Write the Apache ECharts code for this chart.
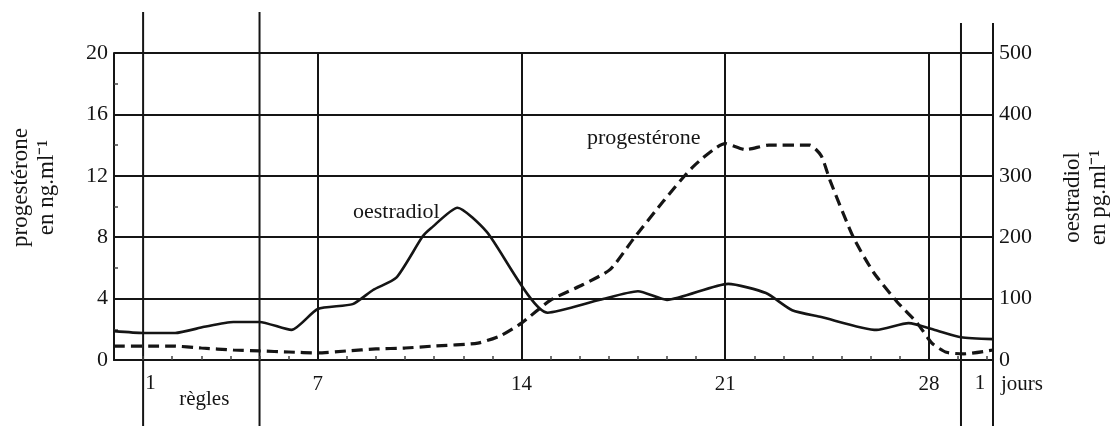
<!DOCTYPE html>
<html>
<head>
<meta charset="utf-8">
<script src="https://cdn.jsdelivr.net/npm/echarts@6/dist/echarts.min.js"></script>
<style>
  html, body { margin: 0; padding: 0; background: #fff; }
  #chart { width: 1112px; height: 426px; }
</style>
</head>
<body>
<div id="chart"></div>
<script>
// ---- data ----
const oestradiolDays   = [0, 1, 2.1, 3.1, 4.1, 5, 6.1, 7, 8.2, 8.9, 9.7, 10.6, 10.9, 11.8, 12.8, 14.9, 16.7, 18, 19, 21.1, 22.4, 23.3, 24.3, 26.2, 27.3, 28.2, 29.1, 30.2];
const oestradiolValues = [47, 44, 44, 54, 62, 62, 49, 83, 91, 114, 134, 201, 215, 248, 209, 77, 98, 112, 98, 124, 109, 81, 70, 49, 60, 49, 37, 34];

const progesteroneDays   = [0, 2, 3, 4.1, 5, 6, 7, 8, 9, 10, 11, 12.5, 13.3, 14, 15, 16.1, 17.05, 17.85, 18.9, 19.9, 21, 21.7, 22.5, 23.9, 24.3, 24.6, 25.4, 26.1, 26.9, 27.6, 28.1, 28.6, 29.2, 30.2];
const progesteroneValues = [0.91, 0.91, 0.78, 0.65, 0.59, 0.52, 0.46, 0.59, 0.72, 0.78, 0.91, 1.1, 1.6, 2.4, 3.9, 4.9, 5.9, 7.9, 10.4, 12.6, 14.1, 13.7, 14.0, 14.0, 13.3, 11.7, 8.0, 5.7, 3.8, 2.4, 1.1, 0.5, 0.4, 0.65];

const xTickLabels = [7, 14, 21, 28];
const extraDayLabels = [{ day: 1.25, text: '1' }, { day: 29.75, text: '1' }];
const reglesLabel = { day: 3.1, text: 'règles' };
const joursLabel = 'jours';
const longLineDaysLeft = [1, 5];
const longLineDaysRight = [29.1, 30.2];
const leftName = 'progestérone\nen ng.ml⁻¹';
const rightName = 'oestradiol\nen pg.ml⁻¹';
const xMax = 30.2;

const INK = '#151515';
const FONT = 'Liberation Serif';

const chart = echarts.init(document.getElementById('chart'));
const pairs = (xs, ys) => xs.map((x, i) => [x, ys[i]]);

chart.setOption({
  animation: false,
  backgroundColor: '#fff',
  grid: { left: 114, right: 119, top: 53, bottom: 66, outerBoundsMode: 'none', containLabel: false },
  xAxis: {
    type: 'value', min: 0, max: xMax, interval: 7,
    axisLine: { lineStyle: { color: INK, width: 2 } },
    axisTick: { show: false, inside: true },
    minorTick: { show: true, splitNumber: 7, length: 4, lineStyle: { color: '#444', width: 1.5 } },
    splitLine: { show: true, lineStyle: { color: INK, width: 2 } },
    axisLabel: {
      margin: 14, color: INK, fontFamily: FONT, fontSize: 21,
      showMaxLabel: false,
      formatter: v => (xTickLabels.indexOf(v) >= 0 ? String(v) : '')
    }
  },
  yAxis: [
    {
      type: 'value', min: 0, max: 20, interval: 4, position: 'left',
      name: leftName, nameLocation: 'middle', nameGap: 54, nameRotate: 90,
      nameTextStyle: { color: INK, fontFamily: FONT, fontSize: 23, lineHeight: 26, padding: [0, 0, 0, 38] },
      axisLine: { show: true, lineStyle: { color: INK, width: 2 } },
      axisTick: { show: false, inside: true },
      minorTick: { show: true, splitNumber: 2, length: 4, lineStyle: { color: '#444', width: 1.5 } },
      splitLine: { show: true, lineStyle: { color: INK, width: 2 } },
      axisLabel: { margin: 6, color: INK, fontFamily: FONT, fontSize: 22, padding: [4, 0, 0, 0] }
    },
    {
      type: 'value', min: 0, max: 500, interval: 100, position: 'right',
      name: rightName, nameLocation: 'middle', nameGap: 67, nameRotate: 90,
      nameTextStyle: { color: INK, fontFamily: FONT, fontSize: 23, lineHeight: 26, padding: [0, 0, 0, 18] },
      axisLine: { show: true, lineStyle: { color: INK, width: 2 } },
      axisTick: { show: false },
      splitLine: { show: false },
      axisLabel: { margin: 6, color: INK, fontFamily: FONT, fontSize: 22, padding: [4, 0, 0, 0] }
    }
  ],
  series: [
    {
      name: 'oestradiol', type: 'line', yAxisIndex: 1, symbol: 'none', smooth: 0.2,
      data: pairs(oestradiolDays, oestradiolValues),
      lineStyle: { color: INK, width: 2.6 }
    },
    {
      name: 'progestérone', type: 'line', yAxisIndex: 0, symbol: 'none', smooth: 0.2,
      data: pairs(progesteroneDays, progesteroneValues),
      lineStyle: { color: INK, width: 3.2, type: [11, 6] }
    }
  ]
});

// decorations positioned from the axis scales
const px = d => chart.convertToPixel({ xAxisIndex: 0 }, d);
const y0 = chart.convertToPixel({ yAxisIndex: 0 }, 0);
const graphics = [];
longLineDaysLeft.forEach(d => {
  const x = px(d);
  graphics.push({ type: 'line', shape: { x1: x, y1: 12, x2: x, y2: 426 }, style: { stroke: INK, lineWidth: 2 } });
});
longLineDaysRight.forEach(d => {
  const x = px(d);
  graphics.push({ type: 'line', shape: { x1: x, y1: 23, x2: x, y2: 426 }, style: { stroke: INK, lineWidth: 2 } });
});
const txt = (x, y, text, align) => ({
  type: 'text', x: x, y: y,
  style: { text: text, fill: INK, font: '21px "' + FONT + '"', align: align || 'center', verticalAlign: 'middle' }
});
extraDayLabels.forEach(l => graphics.push(txt(px(l.day), y0 + 23, l.text)));
graphics.push(txt(px(reglesLabel.day), y0 + 39, reglesLabel.text));
graphics.push(txt(px(xMax) + 8, y0 + 24, joursLabel, 'left'));

const oPos = chart.convertToPixel({ seriesIndex: 0 }, [9.7, 241]);
const pPos = chart.convertToPixel({ seriesIndex: 1 }, [18.2, 14.46]);
graphics.push({ type: 'text', x: oPos[0], y: oPos[1], style: { text: 'oestradiol', fill: INK, font: '22px "' + FONT + '"', align: 'center', verticalAlign: 'middle' } });
graphics.push({ type: 'text', x: pPos[0], y: pPos[1], style: { text: 'progestérone', fill: INK, font: '22px "' + FONT + '"', align: 'center', verticalAlign: 'middle' } });

chart.setOption({ graphic: graphics });
</script>
</body>
</html>
